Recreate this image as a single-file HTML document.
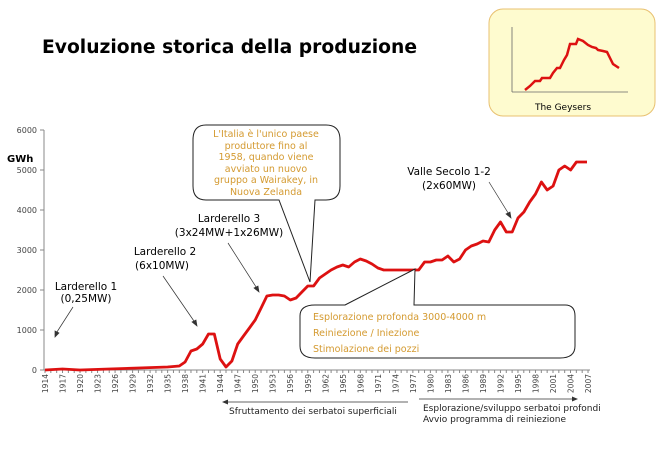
<!DOCTYPE html>
<html><head><meta charset="utf-8"><style>
body{margin:0;background:#fff}
svg{display:block;font-family:"DejaVu Sans","Liberation Sans",sans-serif}
</style></head><body>
<svg width="664" height="465" viewBox="0 0 664 465" xmlns="http://www.w3.org/2000/svg">
<rect width="664" height="465" fill="#fff"/>
<text x="42" y="53" font-size="18.7" font-weight="bold" fill="#000">Evoluzione storica della produzione</text>

<!-- inset -->
<rect x="489" y="9" width="166" height="107" rx="14" fill="#fefbcf" stroke="#e8c070" stroke-width="1"/>
<line x1="512" y1="27" x2="512" y2="92" stroke="#666" stroke-width="0.8"/>
<line x1="512" y1="92" x2="628" y2="92" stroke="#666" stroke-width="0.8"/>
<polyline fill="none" stroke="#dd1111" stroke-width="2.5" points="525,90 530,86 535,81 540,81 542,78 549,78 550,78 553,73 557,68 560,68 564,60 567,55 570,44 576,44 578,39 583,41 588,45 592,47 596,48 598,50 603,51 607,52 610,58 613,64 619,68"/>
<text x="563" y="110" font-size="9" text-anchor="middle" fill="#000">The Geysers</text>

<!-- y axis -->
<g font-size="8" fill="#444" text-anchor="end">
<line x1="44" y1="130" x2="44" y2="370" stroke="#888"/>
<g stroke="#888"><line x1="40" y1="130" x2="44" y2="130"/><line x1="40" y1="170" x2="44" y2="170"/><line x1="40" y1="210" x2="44" y2="210"/><line x1="40" y1="250" x2="44" y2="250"/><line x1="40" y1="290" x2="44" y2="290"/><line x1="40" y1="330" x2="44" y2="330"/><line x1="40" y1="370" x2="44" y2="370"/></g>
<text x="37" y="133">6000</text><text x="37" y="173">5000</text><text x="37" y="213">4000</text><text x="37" y="253">3000</text><text x="37" y="293">2000</text><text x="37" y="333">1000</text><text x="37" y="373">0</text>
</g>
<text x="7" y="162" font-size="10" font-weight="bold" fill="#000">GWh</text>

<!-- x axis -->
<line x1="44" y1="370" x2="590" y2="370" stroke="#888"/>
<g id="ticks" stroke="#888"></g>
<g id="xl" font-size="7.5" fill="#444"></g>

<!-- data -->
<polyline fill="none" stroke="#dd1111" stroke-width="2.8" stroke-linejoin="round" points="45,370 62.5,369 80,370 109.2,369 138.4,368 167.6,367 179.3,366 185.1,362 191,351 196.8,349 202.7,344 208.5,334 214.3,334 220.2,359 226,367 231.9,361 237.7,344 243.5,336 249.4,328 255.2,320 261.1,308 266.9,296 272.7,295 278.6,295 284.4,296 290.3,300 296.1,298 301.9,292 307.8,286 313.6,286 319.5,278 325.3,274 331.1,270 337,267 342.8,265 348.7,267 354.5,262 360.3,259 366.2,261 372,264 377.9,268 383.7,270 407,270 418.7,270 424.6,262 430.4,262 436.3,260 442.1,260 447.9,256 453.8,262 459.6,259 465.5,250 471.3,246 477.1,244 483,241 488.8,242 494.7,230 500.5,222 506.3,232 512.2,232 518,218 523.9,212 529.7,202 535.5,194 541.4,182 547.2,190 553.1,186 558.9,170 564.7,166 570.6,170 576.4,162 582.3,162 587,162"/>

<!-- annotations -->
<g font-size="10.5" fill="#000" text-anchor="middle">
<text x="86" y="290">Larderello 1</text><text x="86" y="302">(0,25MW)</text>
<text x="165" y="255">Larderello 2</text><text x="162" y="269">(6x10MW)</text>
<text x="229" y="222">Larderello 3</text><text x="229" y="236">(3x24MW+1x26MW)</text>
<text x="449" y="175">Valle Secolo 1-2</text><text x="449" y="189">(2x60MW)</text>
</g>
<g stroke="#333" stroke-width="0.7">
<line x1="73" y1="307" x2="55" y2="335"/><polygon points="55,337 55,331 59,333" fill="#333"/>
<line x1="163" y1="276" x2="196" y2="324"/><polygon points="197,326 192,322 196,320" fill="#333"/>
<line x1="228" y1="243" x2="258" y2="290"/><polygon points="259,292 254,288 258,286" fill="#333"/>
<line x1="489" y1="182" x2="510" y2="216"/><polygon points="511,218 506,214 510,212" fill="#333"/>
</g>

<!-- Italia callout -->
<path d="M206,125 L326,125 Q340,125 340,140 L340,186 Q340,200 326,200 L315,200 L310,282 L279,200 L206,200 Q193,200 193,186 L193,140 Q193,125 206,125 Z" fill="#fff" stroke="#222" stroke-width="1"/>
<g font-size="9.5" fill="#d49a30" text-anchor="middle">
<text x="266" y="137">L'Italia è l'unico paese</text>
<text x="266" y="149">produttore fino al</text>
<text x="266" y="160">1958, quando viene</text>
<text x="266" y="172">avviato un nuovo</text>
<text x="266" y="183">gruppo a Wairakey, in</text>
<text x="266" y="195">Nuova Zelanda</text>
</g>

<!-- Exploration callout -->
<path d="M345,305 L415,269 L414,305 L565,305 Q575,305 575,316 L575,346 Q575,358 560,358 L315,358 Q300,358 300,346 L300,316 Q300,305 315,305 Z" fill="#fff" stroke="#222" stroke-width="1"/>
<g font-size="9.5" fill="#d49a30">
<text x="313" y="320">Esplorazione profonda 3000-4000 m</text>
<text x="313" y="336">Reiniezione / Iniezione</text>
<text x="313" y="352">Stimolazione dei pozzi</text>
</g>

<!-- bottom arrows -->
<g stroke="#333" stroke-width="0.8">
<line x1="226" y1="402" x2="408" y2="402"/>
<line x1="419" y1="399" x2="574" y2="399"/>
</g>
<polygon points="222,402 228,399.5 228,404.5" fill="#333"/>
<polygon points="578,399 572,396.5 572,401.5" fill="#333"/>
<g font-size="9" fill="#222">
<text x="229" y="414">Sfruttamento dei serbatoi superficiali</text>
<text x="423" y="411">Esplorazione/sviluppo serbatoi profondi</text>
<text x="423" y="422">Avvio programma di reiniezione</text>
</g>

<script>
var t=document.getElementById('ticks'),l=document.getElementById('xl'),ns='http://www.w3.org/2000/svg';
for(var y=1914;y<=2007;y++){var x=45+(y-1914)*5.839;
var ln=document.createElementNS(ns,'line');ln.setAttribute('x1',x);ln.setAttribute('x2',x);ln.setAttribute('y1',370);ln.setAttribute('y2',373);t.appendChild(ln);
if((y-1914)%3==0){var tx=document.createElementNS(ns,'text');tx.setAttribute('transform','translate('+(x+3)+',374) rotate(-90)');tx.setAttribute('text-anchor','end');tx.textContent=y;l.appendChild(tx);}}
</script>
</svg>
</body></html>
